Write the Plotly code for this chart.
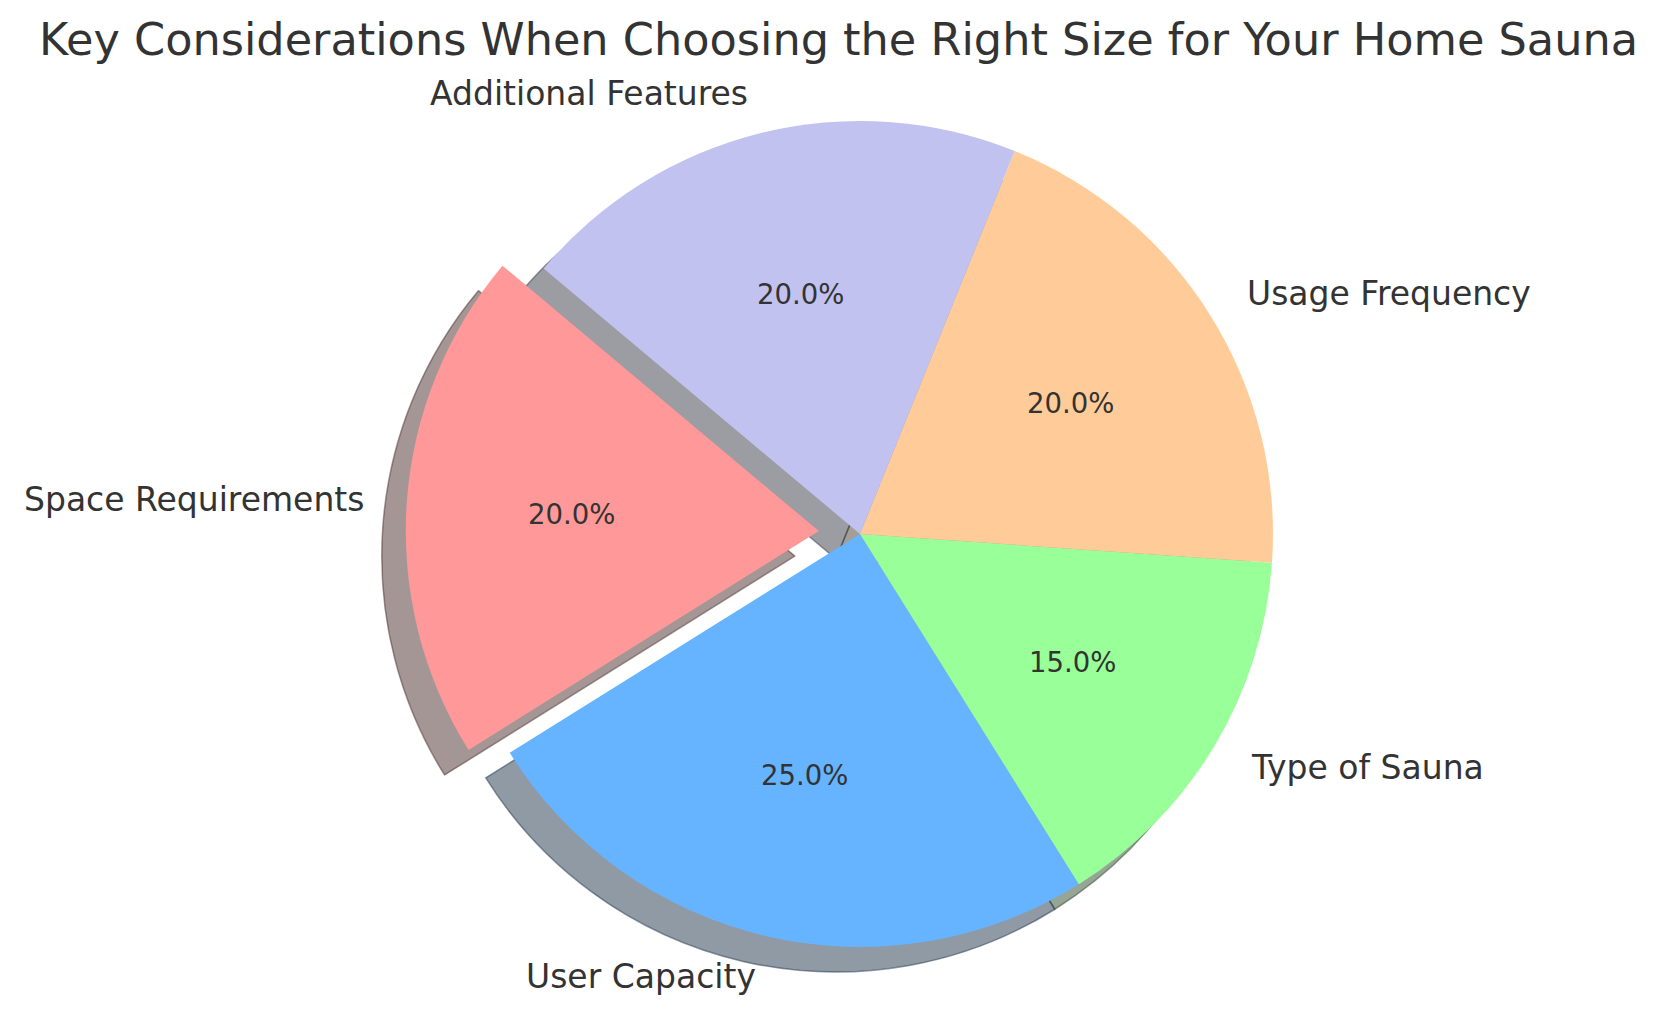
import math
import plotly.graph_objects as go

# ---- data ----
categories = ["Space Requirements", "User Capacity", "Type of Sauna",
              "Usage Frequency", "Additional Features"]
values = [20, 25, 15, 20, 20]
colors = ["#ff9999", "#66b3ff", "#99ff99", "#ffcc99", "#c2c2f0"]
explode = [0.1, 0, 0, 0, 0]
title_text = "Key Considerations When Choosing the Right Size for Your Home Sauna"

# ---- geometry (pixels) ----
W, H = 1656, 1015
cx, cy = 860, 534          # pie centre
R = 413                    # pie radius
shadow_dx, shadow_dy = -24, 25
start_angle = 140          # degrees, counter-clockwise from 3 o'clock
text_color = "#333333"
font_family = "DejaVu Sans"

maxpull = max(explode)
half = R * (1 + maxpull)
total = sum(values)

# plotly (counterclockwise) puts the END of the first slice at `rotation`
first_end = start_angle + 360 * values[0] / total
rotation = -(first_end - 90)


def domain(cxp, cyp):
    yb = H - cyp
    return dict(x=[(cxp - half) / W, (cxp + half) / W],
                y=[(yb - half) / H, (yb + half) / H])


def shadow_rgba(hexc, a=0.5):
    h = hexc.lstrip("#")
    r, g, b = (int(h[i:i + 2], 16) for i in (0, 2, 4))
    return f"rgba({round(0.3 * r)},{round(0.3 * g)},{round(0.3 * b)},{a})"


shadow_cols = [shadow_rgba(c) for c in colors]

fig = go.Figure()
# shadow pie
fig.add_trace(go.Pie(
    labels=categories, values=values, sort=False, direction="counterclockwise",
    rotation=rotation, pull=explode,
    marker=dict(colors=shadow_cols, line=dict(color=shadow_cols, width=1.5)),
    textinfo="none", hoverinfo="skip", showlegend=False,
    domain=domain(cx + shadow_dx, cy + shadow_dy),
))
# main pie
fig.add_trace(go.Pie(
    labels=categories, values=values, sort=False, direction="counterclockwise",
    rotation=rotation, pull=explode,
    marker=dict(colors=colors, line=dict(width=0)),
    textinfo="none", showlegend=False,
    domain=domain(cx, cy),
))

# labels and percentages, matplotlib style
theta = start_angle
annotations = []
for lab, v, ex in zip(categories, values, explode):
    span = 360 * v / total
    mid = math.radians(theta + span / 2)
    theta += span
    ox = cx + ex * R * math.cos(mid)
    oy = cy - ex * R * math.sin(mid)
    # label
    lx = ox + 1.1 * R * math.cos(mid)
    ly = oy - 1.1 * R * math.sin(mid)
    annotations.append(dict(
        text=lab, x=lx / W, y=1 - ly / H, xref="paper", yref="paper",
        xanchor="left" if math.cos(mid) > 0 else "right", yanchor="middle",
        showarrow=False, font=dict(family=font_family, size=33, color=text_color)))
    # percent
    px = ox + 0.6 * R * math.cos(mid)
    py = oy - 0.6 * R * math.sin(mid)
    annotations.append(dict(
        text=f"{100 * v / total:.1f}%", x=px / W, y=1 - py / H,
        xref="paper", yref="paper", xanchor="center", yanchor="middle",
        showarrow=False, font=dict(family=font_family, size=27.5, color=text_color)))

annotations.append(dict(
    text=title_text, x=838 / W, y=1 - 40 / H, xref="paper", yref="paper",
    xanchor="center", yanchor="middle", showarrow=False,
    font=dict(family=font_family, size=44.6, color=text_color)))

fig.update_layout(
    width=W, height=H, margin=dict(l=0, r=0, t=0, b=0),
    paper_bgcolor="white", plot_bgcolor="white",
    annotations=annotations, showlegend=False,
)

fig.write_html("out.html")
